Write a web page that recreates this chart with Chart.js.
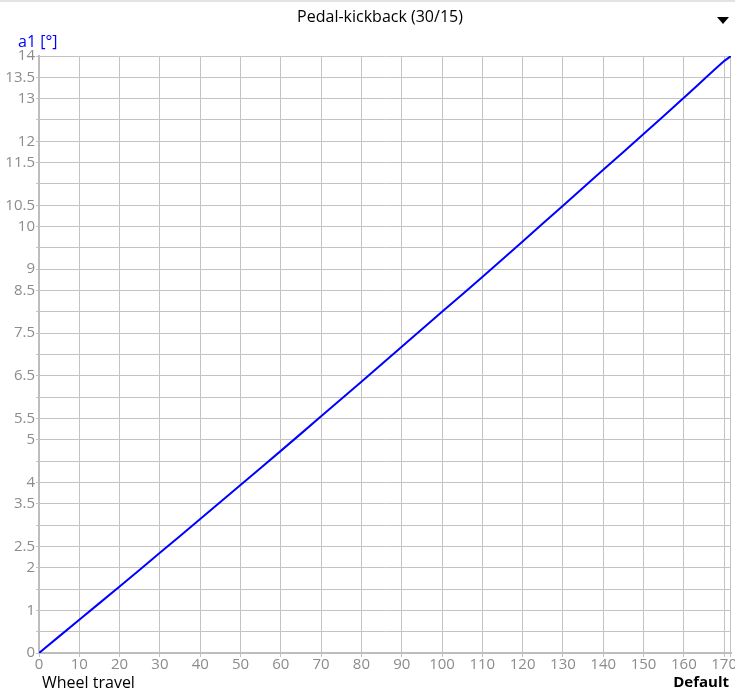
<!DOCTYPE html>
<html>
<head>
<meta charset="utf-8">
<script src="https://cdn.jsdelivr.net/npm/chart.js@4"></script>
<style>
  html, body { margin: 0; padding: 0; background: #fff; overflow: hidden; }
  body { width: 735px; height: 696px; position: relative; font-family: "Open Sans", "Noto Sans", sans-serif; }
  #topbar { position: absolute; left: 0; top: 0; width: 735px; height: 2px; background: #e3e3e3; }
  #wrap { position: absolute; left: 0; top: 0; width: 760px; height: 696px; }
  .lbl { position: absolute; white-space: nowrap; font-size: 16px; }
  #title { left: 0; width: 760px; top: 5px; text-align: center; color: #000; }
  #ytitle { left: 18px; top: 30px; color: #0000ff; }
  #xtitle { left: 42px; top: 671px; color: #000; }
  #tag { right: 6px; top: 671px; color: #000; font-weight: bold; font-size: 15px; }
  #arrow { position: absolute; left: 717px; top: 17px; width: 0; height: 0;
           border-left: 6px solid transparent; border-right: 6px solid transparent; border-top: 7px solid #000; }
</style>
</head>
<body>
<div id="topbar"></div>
<div id="wrap"><canvas id="chart" width="760" height="696"></canvas></div>
<div class="lbl" id="title">Pedal-kickback (30/15)</div>
<div class="lbl" id="ytitle">a1 [°]</div>
<div class="lbl" id="xtitle">Wheel travel</div>
<div class="lbl" id="tag">Default</div>
<div id="arrow"></div>
<script>
// ===============================
// data
// ===============================
const travel   = [0, 10, 20, 30, 40, 50, 60, 70, 80, 90, 100, 110, 120, 130, 140, 150, 160, 170, 171.7];
const kickback = [0, 0.78, 1.56, 2.35, 3.14, 3.94, 4.74, 5.55, 6.36, 7.18, 8.0, 8.82, 9.65, 10.49, 11.33, 12.17, 13.02, 13.88, 14.0];
const yTickLabels = [0, 1, 2, 2.5, 3.5, 4, 5, 5.5, 6.5, 7.5, 8.5, 9, 10, 10.5, 11.5, 12, 13, 13.5, 14];

const GRID = '#c3c3c3';
const TICK_TXT = '#8c8c8c';
const FONT = '"Open Sans", "Noto Sans", sans-serif';

// right edge line of the plot (x max is not a tick)
const edgeLine = {
    id: 'edgeLine',
    beforeDatasetsDraw(chart) {
        const a = chart.chartArea;
        const ctx = chart.ctx;
        ctx.save();
        ctx.strokeStyle = GRID;
        ctx.lineWidth = 1;
        ctx.beginPath();
        ctx.moveTo(Math.round(a.right) - 0.5, a.top);
        ctx.lineTo(Math.round(a.right) - 0.5, a.bottom + 4);
        ctx.stroke();
        ctx.restore();
    }
};

new Chart(document.getElementById('chart'), {
    type: 'line',
    data: {
        datasets: [{
            data: travel.map((x, i) => ({ x: x, y: kickback[i] })),
            borderColor: '#0000ff',
            borderWidth: 2,
            pointRadius: 0,
            tension: 0.3,
            fill: false
        }]
    },
    options: {
        responsive: false,
        animation: false,
        devicePixelRatio: 1,
        layout: { padding: { top: 56, right: 29, left: 0, bottom: 0 } },
        plugins: { legend: { display: false }, tooltip: { enabled: false } },
        scales: {
            x: {
                type: 'linear',
                min: 0,
                max: 171.7,
                border: { color: '#bdbdbd', width: 2 },
                grid: { color: GRID, tickLength: 4 },
                afterFit(scale) { scale.height = 43; },
                ticks: {
                    stepSize: 10,
                    includeBounds: false,
                    autoSkip: false,
                    maxRotation: 0,
                    padding: -1,
                    color: TICK_TXT,
                    font: { family: FONT, size: 15 }
                }
            },
            y: {
                min: 0,
                max: 14,
                border: { color: '#bdbdbd', width: 2 },
                grid: { color: GRID, tickLength: 3 },
                afterFit(scale) { scale.width = 39; },
                ticks: {
                    stepSize: 0.5,
                    autoSkip: false,
                    padding: 1,
                    color: TICK_TXT,
                    font: { family: FONT, size: 15 },
                    callback: v => (yTickLabels.includes(v) ? String(v) : '')
                }
            }
        }
    },
    plugins: [edgeLine]
});
</script>
</body>
</html>
